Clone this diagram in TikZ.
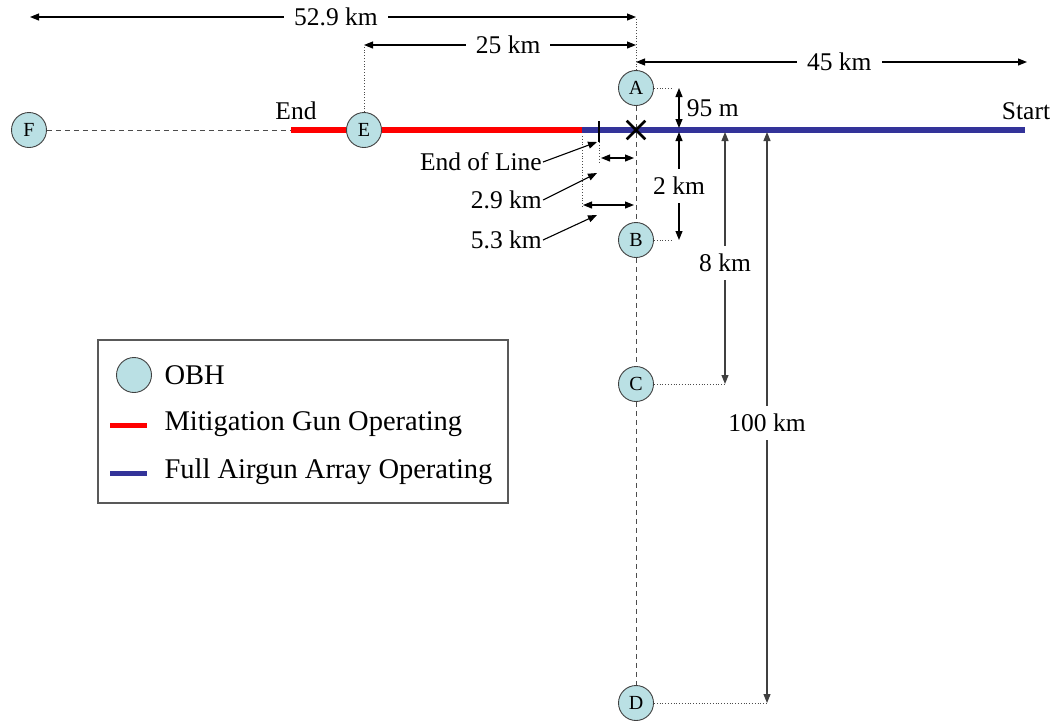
\documentclass[tikz,border=0pt]{standalone}
\usepackage{fontspec}
\setmainfont{Liberation Serif}
\usetikzlibrary{arrows.meta,shapes.misc}
\definecolor{obhfill}{RGB}{186,224,228}
\definecolor{gunred}{RGB}{255,0,0}
\definecolor{arrayblue}{RGB}{51,51,153}
\tikzset{
  obh/.style={circle,draw=black!75,line width=0.9pt,fill=obhfill,minimum size=35pt,inner sep=0pt,font=\fontsize{20}{20}\selectfont},
  redline/.style={gunred,line width=6pt},
  blueline/.style={arrayblue,line width=6pt},
  dim/.style={{Triangle[length=9pt,width=7pt]}-{Triangle[length=9pt,width=7pt]},line width=1.1pt},
  pointer/.style={-{Triangle[length=9pt,width=7pt]},line width=1.1pt},
  ext/.style={dotted,line width=0.8pt,black!70},
  link/.style={dash pattern=on 5pt off 4pt,line width=1pt,black!70},
  lbl/.style={fill=white,inner xsep=10pt,inner ysep=3pt},
  keytext/.style={anchor=west,font=\fontsize{28.5}{32}\selectfont},
}
\begin{document}
\begin{tikzpicture}[x={(1pt,0pt)},y={(0pt,-1pt)},every node/.style={font=\fontsize{25.5}{30}\selectfont}]
\useasboundingbox (0,0) rectangle (1052,724);
\coordinate (endpt) at (291,130);
\coordinate (switch) at (582,130);
\coordinate (startpt) at (1025,130);
\draw[redline] (endpt) -- (switch);
\draw[blueline] (switch) -- (startpt);
\node (endlbl) at (296,111) {End};
\node (startlbl) at (1026,111) {Start};
\node[obh] (F) at (29,130) {F};
\node[obh] (E) at (364,130) {E};
\node[obh] (A) at (636,88) {A};
\node[obh] (B) at (636,240) {B};
\node[obh] (C) at (636,384) {C};
\node[obh] (D) at (636,703) {D};
\draw[link] (F) -- (endpt);
\draw[link] (A) -- (B) -- (C) -- (D);
\node[draw,cross out,line width=2.6pt,minimum size=16pt,inner sep=0pt] (X) at (636,130) {};
\coordinate (w529) at (30,17);
\coordinate (e529) at (636,17);
\draw[dim] (w529) -- node[lbl,pos=0.505]{52.9 km} (e529);
\coordinate (w25) at (364,45);
\coordinate (e25) at (636,45);
\draw[dim] (w25) -- node[lbl,pos=0.53]{25 km} (e25);
\coordinate (w45) at (636,62);
\coordinate (e45) at (1027,62);
\draw[dim] (w45) -- node[lbl,pos=0.52]{45 km} (e45);
\draw[ext] (E.north) -- (w25);
\draw[ext] (A.north) -- (e529);
\coordinate (t95) at (679,88);
\coordinate (b95) at (679,128);
\draw[dim] (t95) -- node[right=4pt,fill=none]{95 m} (b95);
\coordinate (t2) at (679,132);
\coordinate (b2) at (679,240);
\draw[dim] (t2) -- node[lbl,inner xsep=2pt,inner ysep=8pt]{2 km} (b2);
\coordinate (t8) at (725,132);
\coordinate (b8) at (725,384);
\draw[dim,black!75] (t8) -- node[lbl,inner xsep=2pt,inner ysep=8pt,pos=0.52,text=black]{8 km} (b8);
\coordinate (t100) at (767,132);
\coordinate (b100) at (767,703);
\draw[dim,black!75] (t100) -- node[lbl,inner xsep=2pt,inner ysep=8pt,pos=0.51,text=black]{100 km} (b100);
\coordinate (a95) at (673,88);
\coordinate (a2) at (673,240);
\draw[ext] (A.east) -- (a95);
\draw[ext] (B.east) -- (a2);
\draw[ext] (C.east) -- (b8);
\draw[ext] (D.east) -- (b100);
\coordinate (tickup) at (599,121);
\coordinate (tickdn) at (599,142);
\draw[line width=1.3pt] (tickup) -- (tickdn);
\coordinate (w29) at (601,158);
\coordinate (e29) at (634,158);
\draw[dim] (w29) -- (e29);
\draw[ext] (tickdn) -- (599,162);
\coordinate (w53) at (583,205);
\coordinate (e53) at (634,205);
\draw[ext] (582,136) -- (582,208);
\draw[dim] (w53) -- (e53);
\node[anchor=east,inner sep=1pt] (eol) at (543,162) {End of Line};
\node[anchor=east,inner sep=1pt] (l29) at (543,200) {2.9 km};
\node[anchor=east,inner sep=1pt] (l53) at (543,240) {5.3 km};
\draw[pointer] (eol.east) -- (597,142);
\draw[pointer] (l29.east) -- (597,173);
\draw[pointer] (l53.east) -- (597,215);
\draw[black!65,line width=1.2pt] (98,340) rectangle (508,503);
\node[obh] (keyobh) at (134,375) {};
\node[keytext] (txtobh) at (161,375) {OBH};
\coordinate (keyr1) at (110,425);
\coordinate (keyr2) at (147,425);
\draw[gunred,line width=5pt] (keyr1) -- (keyr2);
\node[keytext] (txtgun) at (161,424) {Mitigation Gun Operating};
\coordinate (keyb1) at (110,473);
\coordinate (keyb2) at (147,473);
\draw[arrayblue,line width=5pt] (keyb1) -- (keyb2);
\node[keytext] (txtarr) at (161,472) {Full Airgun Array Operating};
\end{tikzpicture}
\end{document}
